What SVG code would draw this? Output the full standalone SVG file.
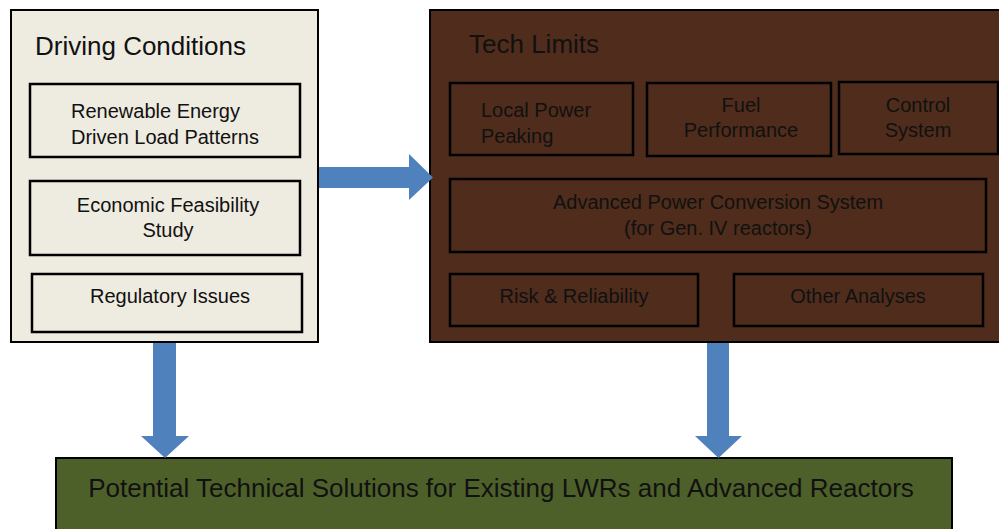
<svg xmlns="http://www.w3.org/2000/svg" width="999" height="529" viewBox="0 0 999 529">
<style>
text{font-family:"Liberation Sans",Arial,sans-serif;fill:#111;}
.t{font-size:26px;}
.s{font-size:20px;}
.c{text-anchor:middle;}
.outer{stroke:#000;stroke-width:2;}
.inner{stroke:#000;stroke-width:2.5;}
.beige{fill:#EEEBE0;}
.brown{fill:#4F2C1B;}
.green{fill:#4E6029;}
.arrow{fill:#4F81BD;stroke:none;}
</style>
<rect width="999" height="529" fill="#fff"/>
<g id="driving-conditions">
<rect class="outer beige" x="11" y="10" width="307" height="332"/>
<text class="t" x="35" y="55">Driving Conditions</text>
</g>
<g id="renewable">
<rect class="inner beige" x="30" y="84" width="270" height="73"/>
<text class="s" x="71" y="118">Renewable Energy</text>
<text class="s" x="71" y="144">Driven Load Patterns</text>
</g>
<g id="economic">
<rect class="inner beige" x="30" y="181" width="270" height="74"/>
<text class="s c" x="168" y="212">Economic Feasibility</text>
<text class="s c" x="168" y="237">Study</text>
</g>
<g id="regulatory">
<rect class="inner beige" x="32" y="274" width="270" height="58"/>
<text class="s c" x="170" y="303">Regulatory Issues</text>
</g>
<g id="tech-limits">
<rect class="outer brown" x="430" y="10" width="580" height="332"/>
<text class="t" x="469" y="53">Tech Limits</text>
</g>
<g id="local-power">
<rect class="inner brown" x="450" y="83" width="183" height="72"/>
<text class="s" x="481" y="117">Local Power</text>
<text class="s" x="481" y="143">Peaking</text>
</g>
<g id="fuel">
<rect class="inner brown" x="647" y="83" width="184" height="73"/>
<text class="s c" x="741" y="112">Fuel</text>
<text class="s c" x="741" y="137">Performance</text>
</g>
<g id="control">
<rect class="inner brown" x="839" y="82" width="159" height="72"/>
<text class="s c" x="918" y="112">Control</text>
<text class="s c" x="918" y="137">System</text>
</g>
<g id="advanced-pcs">
<rect class="inner brown" x="450" y="179" width="536" height="73"/>
<text class="s c" x="718" y="209">Advanced Power Conversion System</text>
<text class="s c" x="718" y="235">(for Gen. IV reactors)</text>
</g>
<g id="risk">
<rect class="inner brown" x="450" y="274" width="248" height="52"/>
<text class="s c" x="574" y="303">Risk &amp; Reliability</text>
</g>
<g id="other">
<rect class="inner brown" x="734" y="274" width="249" height="52"/>
<text class="s c" x="858" y="303">Other Analyses</text>
</g>
<g id="solutions">
<rect class="outer green" x="56" y="458" width="896" height="90"/>
<text class="t c" x="501" y="497">Potential Technical Solutions for Existing LWRs and Advanced Reactors</text>
</g>
<g id="connectors">
<polygon class="arrow" points="319,167 409,167 409,154 433,177.5 409,200 409,188 319,188"/>
<polygon class="arrow" points="153,343 176,343 176,436 189,436 165,458 141,436 153,436"/>
<polygon class="arrow" points="707,343 729,343 729,436 742,436 718.5,458 695,436 707,436"/>
</g>
</svg>
